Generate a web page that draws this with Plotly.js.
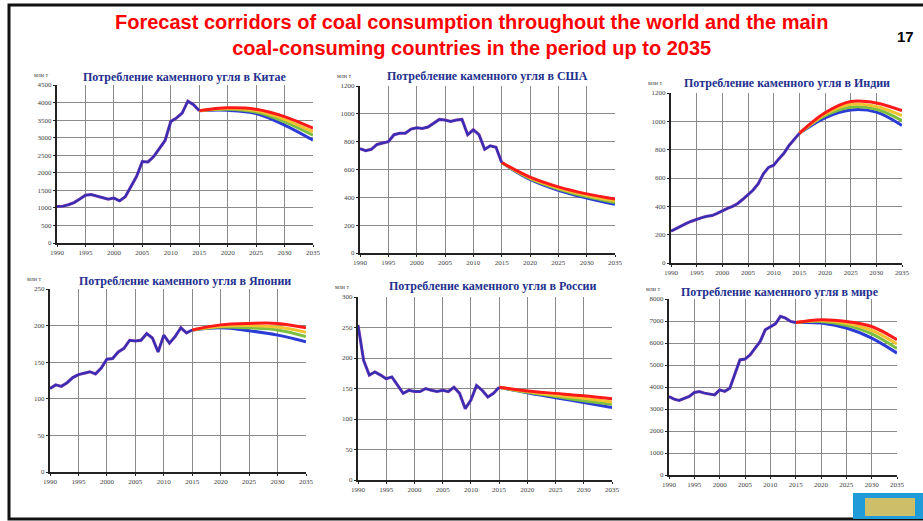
<!DOCTYPE html>
<html>
<head>
<meta charset="utf-8">
<script src="https://cdn.plot.ly/plotly-3.0.1.min.js"></script>
<style>
html,body{margin:0;padding:0;background:#fff;}
#chart{width:923px;height:521px;}
</style>
</head>
<body>
<div id="chart"></div>
<script>
// ---------- DATA ----------
const histYears = [1990,1991,1992,1993,1994,1995,1996,1997,1998,1999,2000,2001,2002,2003,2004,2005,2006,2007,2008,2009,2010,2011,2012,2013,2014,2015];
const fcYears = [2015,2020,2025,2030,2035];
const xTickVals = [1990,1995,2000,2005,2010,2015,2020,2025,2030,2035];
const xTickText = ["1990","1995","2000","2005","2010","2015","2020","2025","2030","2035"];

const panelTitles = [
  "Потребление каменного угля в Китае",
  "Потребление каменного угля в США",
  "Потребление каменного угля в Индии",
  "Потребление каменного угля в Японии",
  "Потребление каменного угля в России",
  "Потребление каменного угля в мире"
];
const unitLabel = "млн т";

// China
const chinaHist = [1040,1050,1090,1150,1250,1360,1380,1340,1290,1250,1280,1200,1320,1600,1900,2320,2310,2460,2680,2920,3460,3560,3700,4040,3940,3770];
const chinaRed = [3770,3850,3810,3600,3270];
const chinaYellow = [3770,3830,3770,3520,3170];
const chinaGreen = [3770,3810,3730,3450,3070];
const chinaBlue = [3770,3780,3690,3360,2930];
const chinaTicks = [0,500,1000,1500,2000,2500,3000,3500,4000,4500];

// USA
const usaHist = [750,735,745,780,790,800,850,860,860,890,900,895,905,935,960,955,945,955,960,850,885,850,745,770,760,650];
const usaRed = [650,545,475,425,388];
const usaYellow = [650,540,467,415,375];
const usaGreen = [650,535,460,405,363];
const usaBlue = [650,528,450,395,350];
const usaTicks = [0,200,400,600,800,1000,1200];

// India
const indiaHist = [225,245,265,280,295,310,320,330,335,350,370,385,400,420,450,480,515,560,630,675,690,735,775,830,870,915];
const indiaRed = [915,1060,1140,1130,1075];
const indiaYellow = [915,1050,1120,1105,1040];
const indiaGreen = [915,1040,1100,1085,1005];
const indiaBlue = [915,1025,1080,1065,970];
const indiaTicks = [0,200,400,600,800,1000,1200];

// Japan
const japanHist = [114,119,117,122,129,133,135,137,134,142,154,155,164,169,180,179,180,189,183,164,187,176,185,197,190,194];
const japanRed = [194,201,203,203,197];
const japanYellow = [194,199,200,198,191];
const japanGreen = [194,198,197,194,185];
const japanBlue = [194,197,193,187,178];
const japanTicks = [0,50,100,150,200,250];

// Russia
const russiaHist = [254,196,172,177,172,166,169,155,142,147,145,145,150,147,145,147,145,152,142,117,131,155,147,136,142,152];
const russiaRed = [152,146,142,138,133];
const russiaYellow = [152,145,139,134,128];
const russiaGreen = [152,144,137,130,124];
const russiaBlue = [152,143,135,127,119];
const russiaTicks = [0,50,100,150,200,250,300];

// World
const worldHist = [3560,3450,3390,3490,3570,3750,3790,3720,3690,3640,3870,3800,3940,4550,5230,5270,5460,5770,6070,6600,6750,6870,7210,7130,6980,6930];
const worldRed = [6930,7060,6980,6750,6150];
const worldYellow = [6930,7020,6900,6580,5950];
const worldGreen = [6930,6980,6800,6420,5750];
const worldBlue = [6930,6910,6680,6220,5540];
const worldTicks = [0,1000,2000,3000,4000,5000,6000,7000,8000];

// ---------- LAYOUT HELPERS ----------
const W = 923, H = 521;
const px = v => v / W;
const py = v => 1 - v / H;

const panels = [
  {hist: chinaHist, f: [chinaBlue, chinaGreen, chinaYellow, chinaRed], ticks: chinaTicks, x0: 57, x1: 313, yt: 85, yb: 243, tx: 185, ty: 77},
  {hist: usaHist, f: [usaBlue, usaGreen, usaYellow, usaRed], ticks: usaTicks, x0: 360, x1: 615, yt: 86, yb: 253, tx: 487, ty: 76},
  {hist: indiaHist, f: [indiaBlue, indiaGreen, indiaYellow, indiaRed], ticks: indiaTicks, x0: 671, x1: 902, yt: 93, yb: 263, tx: 787, ty: 83},
  {hist: japanHist, f: [japanBlue, japanGreen, japanYellow, japanRed], ticks: japanTicks, x0: 50, x1: 306, yt: 289, yb: 472, tx: 185, ty: 281},
  {hist: russiaHist, f: [russiaBlue, russiaGreen, russiaYellow, russiaRed], ticks: russiaTicks, x0: 358, x1: 612, yt: 297, yb: 480, tx: 492, ty: 286},
  {hist: worldHist, f: [worldBlue, worldGreen, worldYellow, worldRed], ticks: worldTicks, x0: 669, x1: 897, yt: 299, yb: 475, tx: 780, ty: 292}
];
const fcColors = ["#2b3bd6", "#7cbf3f", "#f2c230", "#ff1a1a"];

const traces = [];
const layout = {
  width: W, height: H,
  margin: {l: 0, r: 0, t: 0, b: 0},
  paper_bgcolor: "#ffffff",
  plot_bgcolor: "#ffffff",
  showlegend: false,
  annotations: [],
  shapes: []
};

const tickFont = {family: "Liberation Serif, serif", size: 7, color: "#444"};

panels.forEach((p, i) => {
  const n = i + 1;
  const xa = n === 1 ? "x" : "x" + n;
  const ya = n === 1 ? "y" : "y" + n;
  const xKey = n === 1 ? "xaxis" : "xaxis" + n;
  const yKey = n === 1 ? "yaxis" : "yaxis" + n;
  const ymax = p.ticks[p.ticks.length - 1];

  layout[xKey] = {
    domain: [px(p.x0), px(p.x1)], anchor: ya,
    range: [1990, 2035], tickvals: xTickVals, ticktext: xTickText,
    showgrid: true, gridcolor: "#8a8a8a", gridwidth: 1,
    showline: true, linecolor: "#222", linewidth: 2,
    ticks: "outside", ticklen: 2, tickcolor: "#222",
    tickfont: tickFont, zeroline: false, fixedrange: true
  };
  layout[yKey] = {
    domain: [py(p.yb), py(p.yt)], anchor: xa,
    range: [0, ymax], tickvals: p.ticks,
    showgrid: true, gridcolor: "#8a8a8a", gridwidth: 1,
    showline: true, linecolor: "#222", linewidth: 2,
    ticks: "outside", ticklen: 2, tickcolor: "#222",
    tickfont: tickFont, zeroline: false, fixedrange: true
  };

  // forecast corridor lines
  p.f.forEach((vals, k) => {
    traces.push({
      x: fcYears, y: vals, xaxis: xa, yaxis: ya, type: "scatter", mode: "lines",
      line: {color: fcColors[k], width: 3, shape: "spline", smoothing: 1}, hoverinfo: "skip"
    });
  });
  // historical line
  traces.push({
    x: histYears, y: p.hist, xaxis: xa, yaxis: ya, type: "scatter", mode: "lines",
    line: {color: "#6a2fa8", width: 3}, hoverinfo: "skip"
  });
  traces.push({
    x: histYears, y: p.hist, xaxis: xa, yaxis: ya, type: "scatter", mode: "lines",
    line: {color: "#2a2fb8", width: 1.4}, hoverinfo: "skip"
  });

  layout.annotations.push({
    text: panelTitles[i], xref: "paper", yref: "paper",
    x: px(p.tx), y: py(p.ty), xanchor: "center", yanchor: "middle", showarrow: false,
    font: {family: "Liberation Serif, serif", size: 12, color: "#23308f", weight: "bold"}
  });
  layout.annotations.push({
    text: unitLabel, xref: "paper", yref: "paper",
    x: px(p.x0 - 6), y: py(p.yt - 10), xanchor: "right", yanchor: "middle", showarrow: false,
    font: {family: "Liberation Serif, serif", size: 6, color: "#444"}
  });
});

// main title
layout.annotations.push({
  text: "<b>Forecast corridors of coal consumption throughout the world and the main<br>coal-consuming countries in the period up to 2035</b>",
  xref: "paper", yref: "paper", x: px(471), y: py(35), xanchor: "center", yanchor: "middle",
  showarrow: false, align: "center",
  font: {family: "Liberation Sans, Arial, sans-serif", size: 20, color: "#ff0000"}
});
layout.annotations.push({
  text: "<b>17</b>", xref: "paper", yref: "paper", x: px(905), y: py(37),
  xanchor: "center", yanchor: "middle", showarrow: false,
  font: {family: "Liberation Sans, Arial, sans-serif", size: 15, color: "#000"}
});

// slide frame and logo
layout.shapes.push({type: "rect", xref: "paper", yref: "paper",
  x0: px(9), x1: px(935), y0: py(519), y1: py(5), line: {color: "#111", width: 3}, fillcolor: "rgba(0,0,0,0)"});
layout.shapes.push({type: "rect", xref: "paper", yref: "paper",
  x0: px(853), x1: px(923), y0: py(519), y1: py(493), line: {width: 0}, fillcolor: "#1e9bd8"});
layout.shapes.push({type: "rect", xref: "paper", yref: "paper",
  x0: px(865), x1: px(915), y0: py(516), y1: py(498), line: {width: 0}, fillcolor: "#cdbf6a"});

Plotly.newPlot("chart", traces, layout, {displayModeBar: false, staticPlot: true});
</script>
</body>
</html>
